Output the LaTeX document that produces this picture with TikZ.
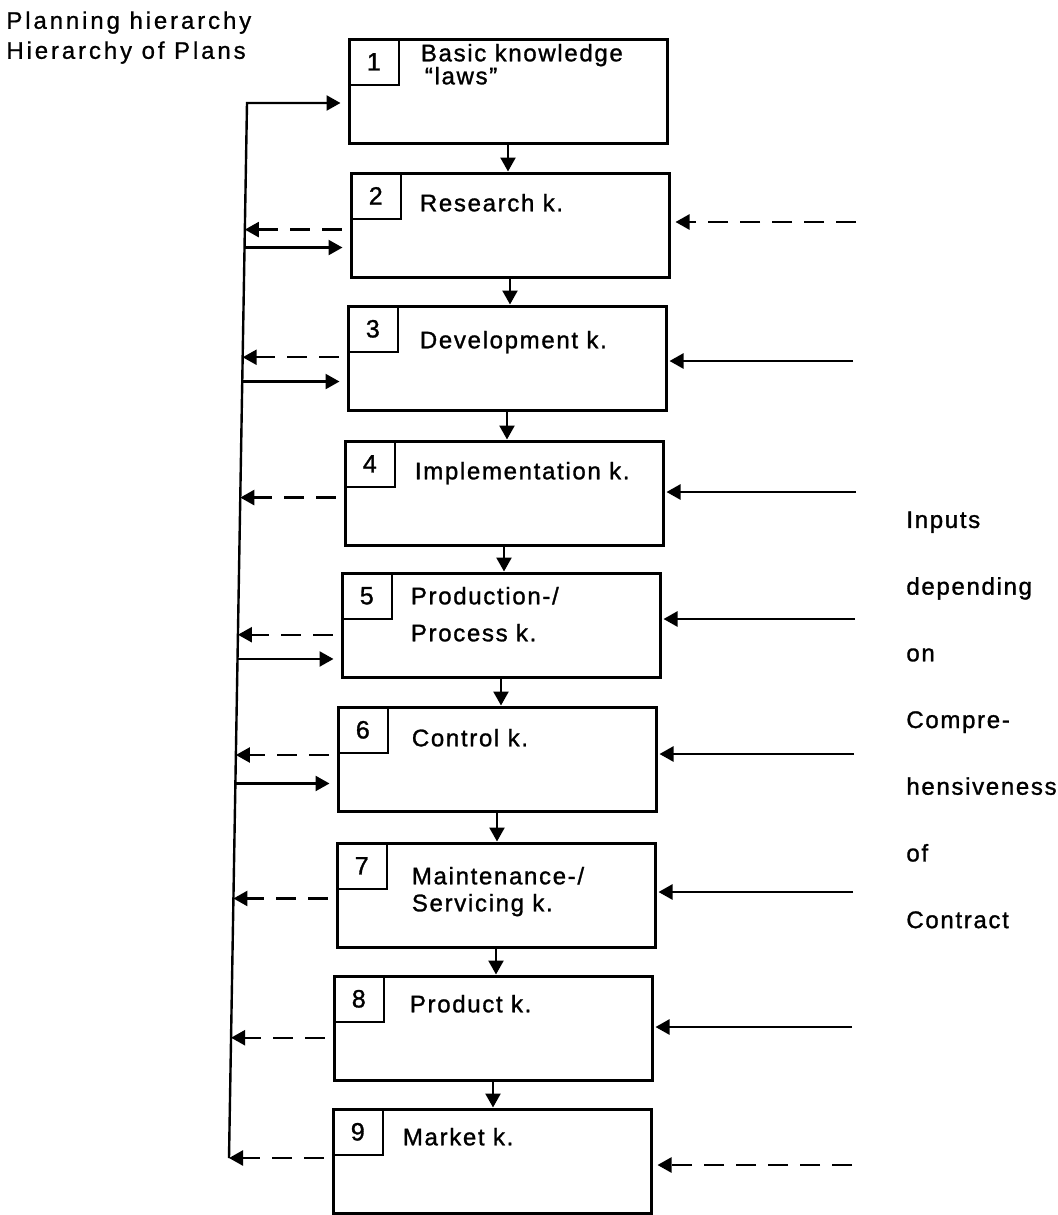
\documentclass[tikz,border=0pt]{standalone}
\usepackage{fontspec}
\setmainfont{Liberation Sans}
\newfontfamily\hdrfont[LetterSpace=12,FakeBold=0.8]{Liberation Sans}
\newfontfamily\boxfont[LetterSpace=7,FakeBold=1.2]{Liberation Sans}
\usetikzlibrary{arrows.meta,calc}
\begin{document}
\begin{tikzpicture}[x=0.5pt,y=-0.5pt,
  kbox/.style={draw, line width=1.5pt, minimum width=159pt, minimum height=52pt, inner sep=0pt},
  numbox/.style={draw, line width=1.3pt, minimum width=25pt, minimum height=23pt, inner sep=0pt,
    anchor=north west, font=\boxfont\fontsize{12.5}{15}\selectfont},
  ktext/.style={anchor=north west, align=left, inner sep=0pt, font=\boxfont\fontsize{12}{15}\selectfont},
  conn/.style={line width=1.2pt, -{Triangle[length=7pt,width=7.5pt]}},
  dconn/.style={conn, dash pattern=on 10pt off 6pt},
  fromleft/.style={shorten >=3.5pt},
  toleft/.style={shorten <=4pt},
  ]
\useasboundingbox (0,0) rectangle (1058,1215);
\fill[white] (0,0) rectangle (1058,1215);

% header
\node[anchor=north west, align=left, inner sep=0pt, font=\hdrfont\fontsize{12}{15}\selectfont]
  (header) at (6,11) {Planning hierarchy\\Hierarchy of Plans};

% boxes
\node[kbox] (b1) at (508,91) {};
\node[kbox] (b2) at (510,225) {};
\node[kbox] (b3) at (507,358) {};
\node[kbox] (b4) at (504,493) {};
\node[kbox] (b5) at (501,625) {};
\node[kbox] (b6) at (497,759) {};
\node[kbox] (b7) at (496,895) {};
\node[kbox] (b8) at (493,1028) {};
\node[kbox] (b9) at (492,1161) {};

% number boxes
\node[numbox] (n1) at (b1.north west) {1};
\node[numbox] (n2) at (b2.north west) {2};
\node[numbox] (n3) at (b3.north west) {3};
\node[numbox] (n4) at (b4.north west) {4};
\node[numbox] (n5) at (b5.north west) {5};
\node[numbox] (n6) at (b6.north west) {6};
\node[numbox] (n7) at (b7.north west) {7};
\node[numbox] (n8) at (b8.north west) {8};
\node[numbox] (n9) at (b9.north west) {9};

% box texts
\node[ktext] (t1) at ($(b1.north west)+(73,6)$) {Basic knowledge\\[-3.5pt]\,“laws”};
\node[ktext] (t2) at ($(b2.north west)+(70,22)$) {Research k.};
\node[ktext] (t3) at ($(b3.north west)+(73,26)$) {Development k.};
\node[ktext] (t4) at ($(b4.north west)+(71,22)$) {Implementation k.};
\node[ktext] (t5) at ($(b5.north west)+(70,15)$) {Production-/\\[3.5pt]Process k.};
\node[ktext] (t6) at ($(b6.north west)+(75,23)$) {Control k.};
\node[ktext] (t7) at ($(b7.north west)+(76,25)$) {Maintenance-/\\[-1.5pt]Servicing k.};
\node[ktext] (t8) at ($(b8.north west)+(77,20)$) {Product k.};
\node[ktext] (t9) at ($(b9.north west)+(71,20)$) {Market k.};

% right-hand label
\node[anchor=north west, align=left, inner sep=0pt, font=\boxfont\fontsize{12}{33.35}\selectfont]
  (inputs) at (906,511) {Inputs\\depending\\on\\Compre-\\hensiveness\\of\\Contract};

% downward connectors
\draw[conn] (b1.south) -- (b1.south |- b2.north);
\draw[conn] (b2.south) -- (b2.south |- b3.north);
\draw[conn] (b3.south) -- (b3.south |- b4.north);
\draw[conn] (b4.south) -- (b4.south |- b5.north);
\draw[conn] (b5.south) -- (b5.south |- b6.north);
\draw[conn] (b6.south) -- (b6.south |- b7.north);
\draw[conn] (b7.south) -- (b7.south |- b8.north);
\draw[conn] (b8.south) -- (b8.south |- b9.north);

% left feedback line
\coordinate (Ltop) at (247,103);
\coordinate (Lbot) at (229,1158);
\draw[conn, shorten >=3.5pt] (Lbot) -- (Ltop) -- (b1.west |- Ltop);

\coordinate (L2d) at ($(Ltop)!0.120!(Lbot)$);
\coordinate (L2s) at ($(Ltop)!0.137!(Lbot)$);
\coordinate (L3d) at ($(Ltop)!0.241!(Lbot)$);
\coordinate (L3s) at ($(Ltop)!0.264!(Lbot)$);
\coordinate (L4d) at ($(Ltop)!0.374!(Lbot)$);
\coordinate (L5d) at ($(Ltop)!0.504!(Lbot)$);
\coordinate (L5s) at ($(Ltop)!0.527!(Lbot)$);
\coordinate (L6d) at ($(Ltop)!0.618!(Lbot)$);
\coordinate (L6s) at ($(Ltop)!0.645!(Lbot)$);
\coordinate (L7d) at ($(Ltop)!0.754!(Lbot)$);
\coordinate (L8d) at ($(Ltop)!0.886!(Lbot)$);

\draw[dconn, toleft] (b2.west |- L2d) -- (L2d);
\draw[conn, fromleft] (L2s) -- (b2.west |- L2s);
\draw[dconn, toleft] (b3.west |- L3d) -- (L3d);
\draw[conn, fromleft] (L3s) -- (b3.west |- L3s);
\draw[dconn, toleft] (b4.west |- L4d) -- (L4d);
\draw[dconn, toleft] (b5.west |- L5d) -- (L5d);
\draw[conn, fromleft] (L5s) -- (b5.west |- L5s);
\draw[dconn, toleft] (b6.west |- L6d) -- (L6d);
\draw[conn, fromleft] (L6s) -- (b6.west |- L6s);
\draw[dconn, toleft] (b7.west |- L7d) -- (L7d);
\draw[dconn, toleft] (b8.west |- L8d) -- (L8d);
\draw[dconn, toleft] (b9.west |- Lbot) -- (Lbot);

% right-hand inputs
\coordinate (R2) at (856,222);
\coordinate (R3) at (853,361);
\coordinate (R4) at (856,492);
\coordinate (R5) at (855,619);
\coordinate (R6) at (854,754);
\coordinate (R7) at (853,892);
\coordinate (R8) at (852,1027);
\coordinate (R9) at (852,1165);
\draw[dconn, shorten >=2.5pt] (R2) -- (b2.east |- R2);
\draw[conn, shorten >=1pt] (R3) -- (b3.east |- R3);
\draw[conn, shorten >=1pt] (R4) -- (b4.east |- R4);
\draw[conn, shorten >=1pt] (R5) -- (b5.east |- R5);
\draw[conn, shorten >=1pt] (R6) -- (b6.east |- R6);
\draw[conn, shorten >=1pt] (R7) -- (b7.east |- R7);
\draw[conn, shorten >=1pt] (R8) -- (b8.east |- R8);
\draw[dconn, shorten >=2.5pt] (R9) -- (b9.east |- R9);
\end{tikzpicture}
\end{document}
